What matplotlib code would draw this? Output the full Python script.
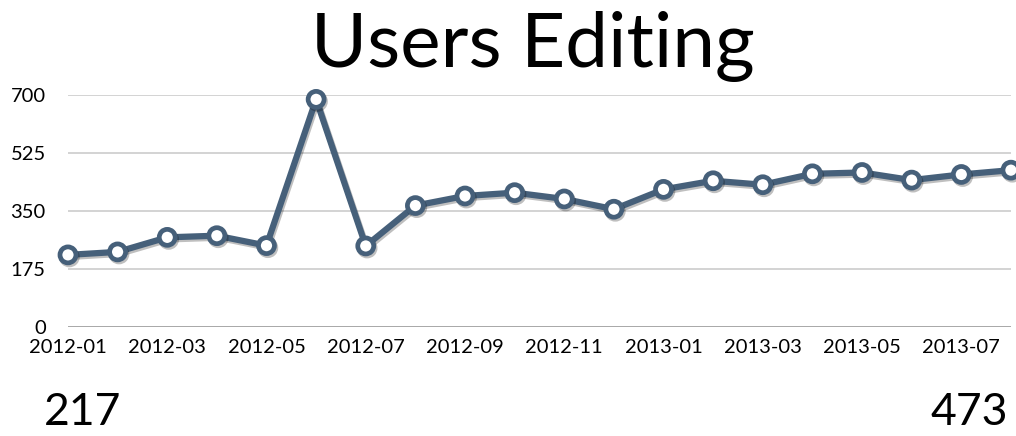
import matplotlib
matplotlib.use("Agg")
import matplotlib.pyplot as plt
import matplotlib.patheffects as pe

# monthly users editing
months = ["2012-01", "2012-02", "2012-03", "2012-04", "2012-05", "2012-06",
          "2012-07", "2012-08", "2012-09", "2012-10", "2012-11", "2012-12",
          "2013-01", "2013-02", "2013-03", "2013-04", "2013-05", "2013-06",
          "2013-07", "2013-08"]
users = [217, 226, 270, 275, 245, 687, 244, 366, 395, 405,
         386, 355, 415, 441, 429, 462, 466, 443, 460, 473]
yticks = [0, 175, 350, 525, 700]

plt.rcParams['font.family'] = ['Lato', 'DejaVu Sans']

fig = plt.figure(figsize=(10.16, 4.36), dpi=100)
ax = fig.add_axes([0.0669, 0.2507, 0.9281, 0.5313])

x = list(range(len(months)))
ax.plot(x, users, color="#46607a", lw=4.5, marker="o", ms=11.5,
        mfc="white", mec="#46607a", mew=3.4, clip_on=False, zorder=3,
        path_effects=[pe.SimpleLineShadow(offset=(1, -1.5), alpha=0.25), pe.Normal()])

ax.set_xlim(0, len(months) - 1)
ax.set_ylim(0, 700)
ax.set_yticks(yticks)
ax.set_yticklabels([str(v) for v in yticks])
ax.set_xticks(x[::2])
ax.set_xticklabels(months[::2])
ax.tick_params(axis="both", length=0, labelsize=14.5, colors="black")
ax.tick_params(axis="y", pad=16)
ax.tick_params(axis="x", pad=9)

for v in yticks:
    ax.axhline(v, color="#999999" if v == 0 else "#cccccc", lw=1.2, zorder=1)
for s in ax.spines.values():
    s.set_visible(False)

fig.text(533 / 1016, 1 - 67 / 436, "Users Editing", fontsize=55,
         ha="center", va="baseline")
fig.text(44 / 1016, 3 / 436, str(users[0]), fontsize=32, ha="left", va="bottom")
fig.text(1008 / 1016, 3 / 436, str(users[-1]), fontsize=32, ha="right", va="bottom")

fig.savefig("out.png", dpi=100)
